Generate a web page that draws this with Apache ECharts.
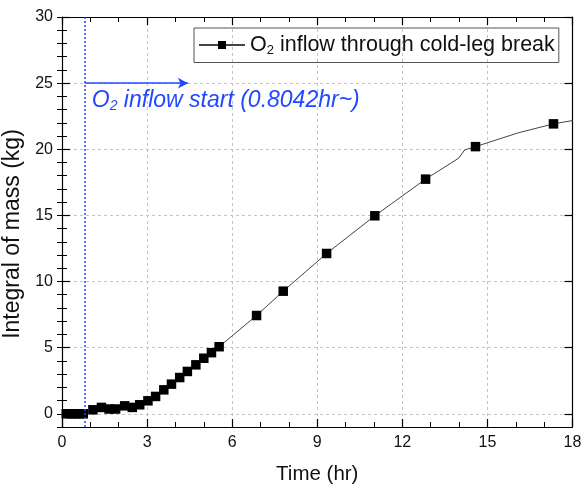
<!DOCTYPE html>
<html>
<head>
<meta charset="utf-8">
<script src="https://cdn.jsdelivr.net/npm/echarts@6/dist/echarts.min.js"></script>
<style>
  html, body { margin: 0; padding: 0; background: #fff; }
  #chart { width: 585px; height: 485px; }
</style>
</head>
<body>
<div id="chart"></div>
<script>
// Cumulative O2 mass entering through the cold-leg break
const timeHr = [0, 0.15, 0.3, 0.45, 0.6, 0.75, 1.09, 1.39, 1.66, 1.89, 2.21, 2.48, 2.74,
  3.03, 3.3, 3.59, 3.86, 4.15, 4.42, 4.72, 5.0, 5.27, 5.54, 6.86, 7.8, 9.33, 11.03, 12.82,
  13.99, 14.2, 14.58, 16.1, 17.33, 18.0];
const massKg = [0, 0, 0, 0, 0, 0, 0.3, 0.48, 0.36, 0.36, 0.6, 0.48, 0.68,
  0.98, 1.31, 1.81, 2.24, 2.74, 3.2, 3.7, 4.2, 4.62, 5.07, 7.43, 9.27, 12.12, 14.97, 17.74,
  19.33, 19.95, 20.2, 21.25, 21.92, 22.17];
// 1 = square marker drawn at this sample, 0 = curve point only
const marked = [0, 1, 1, 1, 1, 1, 1, 1, 1, 1, 1, 1, 1,
  1, 1, 1, 1, 1, 1, 1, 1, 1, 1, 1, 1, 1, 1, 1,
  0, 0, 1, 0, 1, 0];

const inflowStart = 0.8042;   // hr
const arrowEnd = [4.44, 25];  // hr, kg
const xRange = { min: 0, max: 18, step: 3 };
const yRange = { min: -1, max: 30 };
const yMajorTicks = [0, 5, 10, 15, 20, 25, 30];

const seriesName = 'O2 inflow through cold-leg break';
const blue = '#2248ff';
const font = 'Liberation Sans, Arial, sans-serif';

const points = timeHr.map((t, i) => marked[i]
  ? { value: [t, massKg[i]] }
  : { value: [t, massKg[i]], symbol: 'none' });

const chart = echarts.init(document.getElementById('chart'), null, { renderer: 'canvas' });

const gridLine = { show: true, lineStyle: { color: '#c4c4c4', type: [3, 3], width: 1 } };
const frameLine = { show: true, onZero: false, lineStyle: { color: '#000', width: 1.2 } };
const majorTick = { show: true, inside: true, length: 8, lineStyle: { color: '#000', width: 1.2 } };
const minorTickStyle = { color: '#000', width: 1 };

function xAxisDef(pos, labels) {
  return {
    type: 'value', position: pos, min: xRange.min, max: xRange.max, interval: xRange.step,
    axisLine: frameLine, axisTick: majorTick,
    minorTick: { show: true, splitNumber: 3, length: 5, lineStyle: minorTickStyle },
    axisLabel: { show: labels, fontSize: 16, color: '#111', fontFamily: font, margin: 8 },
    splitLine: pos === 'bottom' ? gridLine : { show: false },
    name: labels ? 'Time (hr)' : '', nameLocation: 'middle', nameGap: 37,
    nameTextStyle: { fontSize: 20.5, color: '#111', fontFamily: font }
  };
}
// major ticks, labels and grid lines at multiples of 5
function yAxisDef(pos, labels) {
  return {
    type: 'value', position: pos, min: yRange.min, max: yRange.max,
    axisLine: frameLine,
    axisTick: Object.assign({ customValues: yMajorTicks }, majorTick),
    axisLabel: { show: labels, customValues: yMajorTicks, fontSize: 16, color: '#111',
      fontFamily: font, margin: 9 },
    splitLine: pos === 'left' ? gridLine : { show: false },
    name: labels ? 'Integral of mass (kg)' : '', nameLocation: 'middle', nameGap: 27,
    nameTextStyle: { fontSize: 23, color: '#111', fontFamily: font, padding: [0, 24, 0, 0] }
  };
}
// minor ticks at every whole kg
function yMinorDef(pos) {
  return {
    type: 'value', position: pos, min: yRange.min, max: yRange.max, interval: 1,
    axisLine: { show: false },
    axisTick: { show: true, inside: true, length: 5, lineStyle: minorTickStyle },
    axisLabel: { show: false }, splitLine: { show: false }
  };
}

chart.setOption({
  animation: false,
  backgroundColor: '#fff',
  grid: { left: 62, right: 12.5, top: 17, bottom: 58, outerBoundsMode: 'none', containLabel: false },
  xAxis: [xAxisDef('bottom', true), xAxisDef('top', false)],
  yAxis: [yAxisDef('left', true), yAxisDef('right', false), yMinorDef('left'), yMinorDef('right')],
  legend: {
    left: 194, top: 28, padding: [6, 4, 6, 4],
    borderColor: '#555', borderWidth: 1,
    itemWidth: 46, itemHeight: 10,
    data: [seriesName],
    formatter: () => 'O{sub|2} inflow through cold-leg break',
    textStyle: {
      fontSize: 21.5, color: '#111', fontFamily: font,
      rich: { sub: { fontSize: 13, fontFamily: font, color: '#111', padding: [10, 0, 0, 0] } }
    }
  },
  series: [{
    name: seriesName,
    type: 'line',
    data: points,
    symbol: 'rect', symbolSize: 9.5,
    itemStyle: { color: '#000' },
    lineStyle: { color: '#444', width: 1 },
    markLine: {
      silent: true, animation: false,
      label: { show: false },
      data: [
        [{ coord: [inflowStart, yRange.min], symbol: 'none' },
         { coord: [inflowStart, yRange.max], symbol: 'none' }],
        [{ coord: [inflowStart, arrowEnd[1]], symbol: 'none',
           lineStyle: { type: 'solid', width: 1.5 } },
         { coord: arrowEnd, symbol: 'arrow', symbolSize: [8, 10] }]
      ],
      lineStyle: { color: blue, type: [2, 2], width: 1.5 }
    }
  }]
});

// annotation text under the arrow
const anchor = chart.convertToPixel({ xAxisIndex: 0, yAxisIndex: 0 }, [inflowStart, arrowEnd[1]]);
chart.setOption({
  graphic: [{
    type: 'text', left: anchor[0] + 7, top: anchor[1] + 6,
    style: {
      text: 'O{sub|2} inflow start (0.8042hr~)',
      fill: blue, font: 'italic 23px ' + font,
      rich: { sub: { fontSize: 14, fontStyle: 'italic', fill: blue, padding: [11, 0, 0, 0] } }
    }
  }]
});
</script>
</body>
</html>
